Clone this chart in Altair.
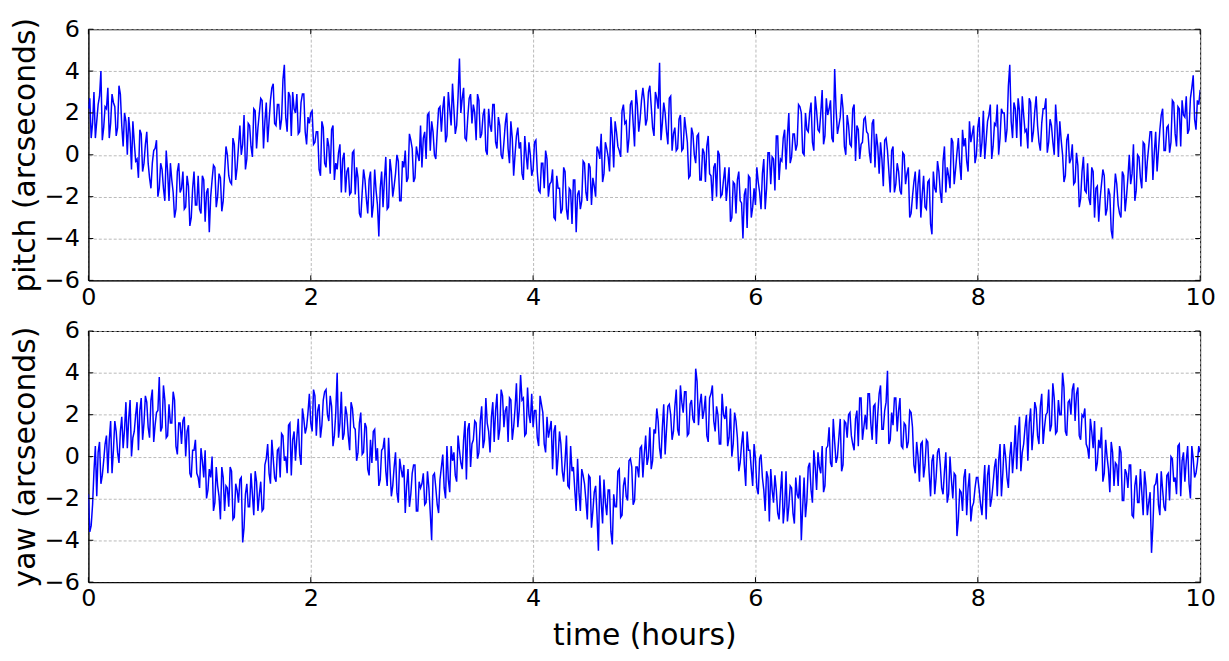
import altair as alt
import pandas as pd

# hours between consecutive samples (main samples + mid-samples interleaved)
T_STEP = 0.0125

# pitch: samples at 0, 0.025, 0.05 ... 10 h
PITCH_MAIN = [
    2.2, 0.8, 3.0, 1.6, 2.8, 0.7, 2.3, 3.2, 1.5, 2.5, 0.9, 3.3, 1.4, 2.0, 0.0, 1.0, 1.6, -0.3, -1.1, 1.0,
    -0.4, 1.1, -1.1, -0.4, 0.3, -2.0, -0.4, -1.6, 0.2, -2.2, -1.2, -3.0, -0.8, -1.8, -0.8, -2.5, -1.5, -3.0, -0.8, -2.4,
    -2.6, -1.0, -3.2, -1.6, -2.0, -0.5, -2.5, -0.9, -2.7, -0.9, 0.0, -1.3, 0.8, -1.2, 0.4, 0.0, 1.9, -0.2, 1.4, -0.1,
    2.1, 1.3, 2.7, 0.3, 2.5, 1.6, 3.2, 1.5, 2.4, 1.2, 3.6, 1.8, 3.0, 0.9, 2.2, 2.9, 1.1, 2.9, 1.1, 1.8,
    2.0, 0.5, 1.1, -0.7, 1.6, -0.4, 0.8, -0.9, 1.4, -0.4, 0.1, -1.8, 0.1, -0.8, -1.9, 0.1, -1.9, -1.1, -3.0, -0.7,
    -2.1, -1.2, -3.0, -0.7, -2.4, -1.6, -2.5, -0.1, -2.5, -0.8, -1.5, 0.0, -2.2, -0.3, 0.2, -1.1, 0.7, -1.3, 0.4, -0.3,
    -0.6, 1.1, 1.9, 0.2, 1.1, -0.2, 2.2, 1.1, 2.8, 0.9, 2.2, 3.4, 1.0, 2.8, 2.0, 3.2, 0.7, 2.7, 1.5, 2.0,
    2.9, 0.8, 1.9, 0.2, 2.2, 1.1, 2.4, 0.3, 1.4, -0.2, 1.5, 0.3, 1.6, -1.0, 0.9, 0.3, -0.9, 0.9, -0.7, 0.0,
    -0.7, 0.7, -1.7, -0.4, -1.6, -0.2, -1.4, -0.7, -3.1, -1.6, -2.8, -0.6, -2.6, -1.6, -3.3, -1.2, -1.9, -2.6, -0.3, -1.8,
    -0.4, -2.4, -1.5, 0.4, -0.2, -1.3, 0.6, -0.1, 1.8, -0.6, 1.1, 0.2, 2.1, 1.5, 0.1, 2.4, 1.5, 3.1, 1.1, 2.6,
    2.6, 1.7, 3.3, 1.3, 3.0, 2.2, 0.7, 2.5, 1.1, 2.7, 0.2, 1.3, 0.3, 1.9, 0.3, 1.2, -1.1, 1.3, 0.0, 0.9,
    -1.2, 0.3, -1.3, 0.9, -1.0, -0.6, -2.0, 0.0, -1.9, -0.6, -1.4, -3.2, -1.3, -2.8, -0.8, -2.3, -1.9, -3.5, -1.1, -2.5,
    -2.4, -1.3, -2.6, -0.2, -1.6, 0.1, -0.1, -1.7, 0.9, -0.2, 0.8, -0.7, 2.0, -0.1, 1.0, 0.5, 2.3, 0.1, 2.0, 1.1,
    2.5, 0.2, 2.1, 1.1, 3.1, 0.9, 1.9, 2.6, 0.6, 2.2, 1.4, 2.9, 0.4, 1.9, 0.5, 2.2, -0.3, 1.2, 0.5, 1.7,
    1.1, 0.1, 1.5, -0.6, 0.4, 0.6, -1.5, 0.8, -0.8, 0.2, -1.8, -0.4, -1.7, 0.1, -1.4, -0.6, -2.8, -1.3, -2.6, -0.7,
    -1.9, -2.5, -1.3, -3.3, -0.8, -1.8, -0.8, -2.3, 0.4, -0.6, -1.6, 0.6, -0.7, 0.8, -1.2, 0.4, -0.3, 1.6, 1.0, -0.4,
    1.3, -0.1, 2.1, 0.7, 1.9, -0.2, 1.5, 2.4, 0.8, 2.0, 0.6, 3.3, 1.6, 2.5, 0.8, 2.1, 2.8, 1.1, 0.3, 2.5,
    1.1, 2.8, 0.6, 1.5, 2.2, 0.1, 1.7, 0.6, 2.4, -0.1, 0.7, -1.3, 0.7, -0.4, 0.5, -1.3, -0.5, -2.1, -0.1, -1.8,
    -2.1, -0.6, -3.0, -1.5, -2.1, -0.7, -2.9, -1.6, -3.6, -2.1, -1.4, -2.8, -0.8, -2.7, -1.1, -1.4, 0.5, -1.7, -0.1, -1.6,
    0.5, -0.3, 1.1, -1.2, 1.1, 0.2, 1.9, 0.2, 1.3, 0.1, 2.6, 1.0, 2.3, 0.4, 1.9, 2.8, 1.2, 3.2, 1.7, 2.6, 3.1,
]

# pitch: samples at 0.0125, 0.0375 ... 9.9875 h
PITCH_MID = [
    2.7, 1.5, 0.8, 2.4, 4.0, 1.3, 2.2, 0.8, 2.9, 2.3, 1.3, 2.9, 0.4, 1.6, 1.8, -0.7, 0.6, -0.2, 1.2, -0.8,
    0.5, -0.4, -1.6, 0.2, 0.7, -1.6, -0.7, -2.2, -0.8, -0.4, -1.8, -2.6, -0.4, -1.6, -2.6, -1.0, -3.4, -1.6, -2.4, -1.0,
    -2.8, -1.2, -1.8, -3.7, -1.2, -0.6, -2.0, -1.1, -2.2, 0.4, -1.0, -1.4, 0.5, -0.6, 1.4, 0.5, -0.7, 1.5, 0.4, 2.2,
    0.3, 2.0, 2.6, 1.6, 0.6, 2.6, 3.4, 1.4, 2.4, 1.7, 4.3, 1.1, 2.8, 3.0, 2.0, 1.0, 2.5, 2.9, 0.5, 1.5,
    2.1, 0.6, 1.1, -1.0, 1.3, -0.6, 0.4, 1.2, -1.2, -0.7, 0.5, -0.2, -1.8, -0.6, -1.8, 0.2, -0.6, -2.8, -1.8, -1.2,
    -2.8, -0.8, -2.4, -1.7, -3.9, -0.8, -1.2, -2.6, -0.2, -2.0, -0.9, -0.3, -2.2, -0.6, -1.3, 1.0, 0.3, -1.1, 0.0, 1.4,
    0.8, -0.2, 2.0, 1.6, 0.0, 1.1, 2.3, 2.2, 0.6, 3.0, 1.4, 2.2, 1.4, 4.6, 2.7, 0.8, 1.8, 2.9, 2.4, 0.7,
    2.6, 1.0, 2.2, 0.0, 1.4, 2.4, 0.6, 1.8, 0.0, 0.6, 2.0, -0.4, 0.8, 0.0, 1.3, 0.6, -1.2, 0.0, 0.6, -1.0,
    0.6, -0.8, -1.8, -0.4, 0.2, -2.0, -1.3, -3.0, -1.0, -1.6, -2.6, -0.8, -3.1, -1.7, -1.2, -3.7, -1.7, -2.2, -0.4, -2.2,
    -0.6, -1.1, -2.0, 0.2, 1.0, -0.9, 0.3, -0.8, 0.9, 1.6, 0.4, -0.1, 2.4, 1.6, 0.8, 2.6, 0.4, 2.4, 1.7, 3.2,
    1.4, 3.0, 2.3, 0.9, 2.7, 4.4, 1.5, 2.0, 0.5, 2.8, 1.0, 0.2, 1.7, 0.2, 1.8, 0.6, -1.0, 1.0, -0.4, 1.0,
    -1.2, 0.1, 0.4, -0.9, -2.2, -0.4, 0.2, -2.0, -1.2, -2.2, -0.6, -3.0, -1.4, -1.2, -2.2, -4.0, -1.6, -1.0, -3.0, -1.6,
    -0.6, -1.8, -0.9, -2.6, 0.1, -1.4, -0.2, 0.9, -1.2, -0.3, 1.2, 0.9, -0.4, 1.0, 0.2, 2.4, 2.0, 0.0, 1.2, 2.0,
    0.6, 2.8, 1.2, 2.0, 0.5, 2.7, 2.2, 0.8, 4.1, 1.0, 1.8, 2.2, 0.0, 1.4, 0.4, 2.4, 1.4, -0.2, 0.6, 1.8,
    1.0, -0.4, 1.7, 1.0, -0.9, -0.2, 0.7, 0.2, -1.8, 0.4, -1.4, -0.8, -1.9, 0.0, -0.9, -3.0, -2.0, -0.8, -1.4, -3.0,
    -1.0, -2.6, -1.2, -3.8, -1.6, -0.3, -1.8, -0.3, -1.8, -1.0, 0.8, -1.4, 0.1, -0.4, 1.2, 0.8, -0.8, 0.6, 1.4, 0.0,
    1.8, 0.6, -0.2, 1.6, 2.4, 0.4, 1.4, 0.0, 2.2, 2.0, 1.2, 4.3, 0.8, 2.2, 2.7, 0.4, 1.9, 1.2, 2.7, 0.6,
    2.1, 1.4, 0.2, 2.2, 2.7, 0.6, 1.4, 0.0, 1.4, 1.6, 0.0, -1.0, 1.0, -0.2, -1.4, 0.1, -2.5, -0.8, -1.7, -0.4,
    -2.4, -0.8, -1.6, -3.2, -1.4, -1.0, -2.6, -1.9, -4.0, -0.9, -2.4, -3.0, -1.0, -2.0, 0.0, -0.9, -2.2, 0.0, -1.1, 0.6,
    -1.3, 0.4, 1.1, 0.1, -0.8, 1.2, 2.2, 0.2, 1.4, 0.6, 2.5, 0.4, 2.2, 2.6, 1.8, 1.0, 2.7, 3.8, 1.2, 2.4,
]

# yaw: samples at 0, 0.025, 0.05 ... 10 h
YAW_MAIN = [
    -1.8, -3.3, -0.7, -1.9, 0.7, -0.9, 0.6, -0.8, 1.7, 0.3, 1.2, -0.3, 1.9, 1.3, 0.4, 2.7, 0.9, 2.0, 0.3, 2.8,
    1.6, 2.6, 0.9, 3.2, 1.5, 2.2, 1.2, 3.4, 0.9, 2.5, 1.6, 2.7, 0.1, 1.6, 1.7, 0.0, 1.5, -1.0, 0.3, -0.8,
    -1.5, -0.2, 0.3, -1.6, -1.0, -2.6, -0.5, -1.9, -0.5, -2.6, -1.5, -0.5, -3.0, -1.3, -2.2, -1.0, -3.4, -1.3, -2.4, -1.8,
    -0.7, -2.6, -1.2, -2.5, -0.1, -0.8, 0.8, -1.0, 0.3, -1.0, 1.0, 0.0, 1.5, -0.9, 1.2, 0.9, 0.1, 2.3, 1.1, 2.1,
    1.6, 3.2, 1.0, 2.5, 1.5, 3.1, 2.0, 2.9, 0.5, 2.1, 0.9, 3.1, 1.1, 2.0, 0.3, 2.3, 1.3, 0.2, 2.1, 0.2,
    1.4, -0.9, -0.3, 1.3, 0.4, -1.1, 0.4, -0.7, 0.9, -1.9, -0.5, -1.7, -0.1, -1.0, -2.7, -0.6, -1.8, -0.4, -2.6, -1.2,
    -1.3, -2.3, -0.7, -2.7, -0.9, -1.5, -2.7, -0.5, -1.5, 0.5, -1.7, -0.2, -0.9, 1.0, -0.3, 0.8, -1.1, 1.6, 0.6, 1.7,
    -0.1, 1.7, 0.4, 2.8, 1.2, 1.9, 0.7, 3.0, 1.3, 2.9, 2.2, 0.7, 2.7, 1.4, 3.5, 2.2, 2.7, 1.0, 3.3, 1.6,
    1.4, 2.2, 0.5, 2.5, 0.6, 1.9, 1.3, -0.6, 1.5, 0.0, 0.6, -1.2, 1.0, -1.5, -0.7, -1.6, -0.1, -2.6, -0.9, -2.1,
    -0.9, -3.4, -1.7, -2.8, -0.9, -3.2, -2.2, -1.6, -3.6, -1.8, -2.4, -0.6, -2.8, -1.0, -2.1, -0.1, -2.3, -0.5, -1.0, 0.5,
    0.1, -0.4, 1.4, -0.2, 1.1, 1.7, -0.1, 2.5, 1.3, 2.5, 0.8, 2.4, 1.3, 3.4, 2.1, 3.1, 1.1, 2.7, 1.6, 3.6,
    2.5, 1.8, 2.9, 0.7, 3.0, 1.7, 2.4, 0.6, 3.0, 1.8, 0.5, 2.3, 0.6, 1.7, -0.7, 0.6, -0.4, 1.2, 0.3, -1.4,
    -0.1, -1.8, 0.1, -1.6, -0.7, -3.1, -1.6, -0.9, -2.7, -1.7, -3.2, -0.7, -2.4, -1.5, -3.2, -1.8, -0.9, -2.4, -2.9, -0.5,
    -1.6, 0.3, -1.6, -0.5, 0.5, -1.4, 0.5, -0.3, 1.8, -0.3, 0.9, -0.7, 1.7, 0.9, 2.1, 0.6, 1.8, 0.5, 2.8, 1.4,
    1.3, 3.0, 0.8, 2.5, 2.0, 3.4, 1.3, 2.6, 0.6, 2.1, 2.8, 1.2, 2.8, 0.4, 1.5, 0.7, 2.1, -0.4, 0.7, -1.2,
    0.7, -0.4, 0.7, -1.9, 0.1, -1.0, 0.4, -1.5, -0.7, -2.2, 0.0, -2.0, -0.9, -3.0, -1.7, -1.0, -2.8, -0.8, -2.4, -1.5,
    -1.0, -2.3, -1.5, -3.0, -0.4, -2.0, -0.5, -1.9, 0.6, -0.8, 0.0, -1.5, 0.7, 0.2, -0.6, 1.9, 0.2, 1.4, -0.2, 2.3,
    1.2, 2.3, 0.6, 3.0, 1.4, 2.1, 1.2, 3.5, 1.1, 2.7, 2.0, 3.3, 1.0, 2.7, 3.2, 1.7, 3.3, 0.8, 1.9, 0.6,
    -0.1, 1.2, 1.7, -0.3, 0.4, -1.2, 0.8, -0.6, 0.7, -1.4, -0.4, 0.5, -2.1, -0.6, -1.5, -0.4, -2.9, -0.9, -2.2, -1.7,
    -0.7, -2.8, -1.7, -3.3, -1.3, -2.3, -0.7, -2.4, -0.9, -2.1, -0.1, -1.0, 0.5, -1.9, 0.2, -0.2, -1.3, 0.5, -1.0, -0.3, 0.2,
]

# yaw: samples at 0.0125, 0.0375 ... 9.9875 h
YAW_MID = [
    -3.6, -2.3, 0.5, 0.2, -1.3, -0.2, 1.0, 0.8, -0.8, 1.7, 0.2, 1.2, 0.4, 2.6, 1.8, 0.0, 1.2, 2.6, 2.2, 0.8,
    2.9, 1.4, 2.7, 0.7, 2.1, 3.8, 1.4, 2.7, 1.0, 1.6, 3.1, 0.5, 1.6, 0.6, 1.9, 1.2, -0.8, 0.3, 0.8, -1.0,
    0.4, -1.0, -2.0, -0.6, 0.0, -2.2, -1.4, -3.0, -1.0, -1.4, -2.4, -0.7, -2.9, -1.6, -1.1, -4.1, -1.8, -2.4, -0.8, -2.8,
    -1.2, -1.8, -2.6, -0.4, 0.6, -1.3, -0.1, -1.2, 0.4, 1.1, -0.2, -0.8, 1.6, 0.8, -0.2, 1.8, -0.4, 1.8, 1.4, 3.0,
    1.2, 2.9, 2.2, 0.9, 2.7, 3.2, 1.7, 2.4, 1.0, 4.0, 1.6, 0.8, 2.4, 1.0, 2.6, 1.4, -0.2, 1.6, 0.1, 1.6,
    -0.6, 0.8, 1.2, -0.2, -1.4, 0.3, 0.9, -1.4, -0.5, -1.4, 0.2, -2.2, -0.6, -0.4, -1.4, -2.4, -0.8, -0.4, -2.6, -1.5,
    -0.8, -2.2, -1.5, -4.0, -0.8, -2.3, -1.1, 0.1, -2.0, -1.1, 0.5, 0.2, -1.2, 0.3, -0.6, 1.7, 1.3, -0.5, 0.8, 1.6,
    0.2, 2.4, 0.8, 1.6, 0.2, 2.6, 2.2, 0.8, 3.2, 1.4, 2.4, 2.8, 0.8, 2.3, 1.4, 3.9, 2.8, 1.1, 2.0, 3.0,
    2.2, 0.9, 2.9, 2.1, 0.2, 0.9, 1.7, 1.2, -0.9, 1.2, -0.7, -0.2, -1.4, 0.5, -0.5, -2.6, -1.7, -0.6, -1.3, -3.0,
    -1.0, -2.6, -1.4, -4.5, -2.2, -1.1, -2.8, -1.6, -4.2, -2.4, -0.7, -2.9, -1.4, -1.9, -0.2, -0.5, -2.1, -0.5, 0.4, -1.0,
    1.0, 0.0, -0.6, 1.3, 2.3, 0.4, 1.4, 0.1, 2.4, 2.0, 1.2, 3.2, 1.0, 2.6, 3.1, 1.0, 2.5, 1.8, 4.2, 1.5,
    3.0, 2.2, 1.0, 2.8, 3.4, 1.2, 2.0, 0.6, 2.0, 2.4, 0.9, 0.0, 2.1, 0.9, -0.3, 1.2, -1.4, 0.3, -0.6, 0.6,
    -1.5, -0.1, -1.0, -2.6, -1.0, -0.6, -2.2, -1.6, -3.0, -0.7, -2.4, -3.1, -1.4, -2.7, -1.0, -2.0, -4.0, -1.0, -2.1, -0.3,
    -2.2, -0.5, 0.2, -0.8, -1.7, 0.4, 1.4, -0.5, 0.7, 0.0, 1.8, -0.4, 1.6, 2.0, 1.0, 0.3, 2.2, 2.8, 0.8, 2.0,
    3.0, 1.6, 2.4, 0.6, 3.0, 1.3, 2.2, 4.1, 0.8, 1.5, 2.8, 2.2, 0.5, 1.6, 0.4, 2.2, 1.4, -0.8, 0.0, 0.6,
    -1.0, 0.8, -0.8, -0.2, -1.8, 0.2, -0.4, -1.8, 0.2, -1.8, -1.1, -0.8, -3.8, -1.6, -2.6, -0.6, -1.5, -3.1, -2.2, -1.0,
    -1.6, -2.8, -0.4, -0.9, -2.4, -1.3, -0.1, -0.2, -1.9, 0.6, -1.0, 0.0, -0.8, 1.5, 1.0, -0.7, 0.6, 2.0, 1.6, 0.3,
    2.6, 1.0, 2.4, 0.6, 2.0, 3.2, 1.5, 2.8, 1.2, 2.0, 4.0, 1.2, 2.6, 2.0, 3.5, 3.0, 1.0, 2.0, 2.3, 0.4,
    1.8, 0.4, -0.7, 0.8, 1.4, -0.8, 0.0, -1.7, 0.2, -0.3, -1.4, 0.2, -2.1, -0.8, -0.4, -2.8, -1.4, -2.2, -0.6, -2.8,
    -1.4, -2.2, -4.6, -1.4, -0.8, -2.8, -1.6, -2.6, -0.8, 0.0, -1.2, -1.8, 0.6, -0.2, -1.2, 0.5, -2.0, -0.1, -0.8, 0.5,
]

X_TICKS = [0, 2, 4, 6, 8, 10]
Y_TICKS = [-6, -4, -2, 0, 2, 4, 6]
X_DOMAIN = [0, 10]
Y_DOMAIN = [-6, 6]

W, H = 1120, 253
FONT = "DejaVu Sans"


def interleave(main, mid):
    out = []
    for i, m in enumerate(main):
        out.append(m)
        if i < len(mid):
            out.append(mid[i])
    return out


def panel(main, mid, ytitle, xtitle=""):
    vals = interleave(main, mid)
    xs = alt.Scale(domain=X_DOMAIN, nice=False, zero=False)
    ys = alt.Scale(domain=Y_DOMAIN, nice=False, zero=False)
    xenc = alt.X("time:Q", scale=xs, axis=alt.Axis(values=X_TICKS, title=xtitle))
    yenc = alt.Y("value:Q", scale=ys, axis=alt.Axis(values=Y_TICKS, title=ytitle))

    df = pd.DataFrame({
        "time": [round(i * T_STEP, 4) for i in range(len(vals))],
        "value": vals,
    })
    line = alt.Chart(df).mark_line(
        color="#0000ff", strokeWidth=1.5, clip=True
    ).encode(x=xenc, y=yenc)

    ydf = pd.DataFrame({"value": Y_TICKS})
    xdf = pd.DataFrame({"time": X_TICKS})
    tick_style = dict(color="black", strokeWidth=1)
    lt = alt.Chart(ydf).mark_rule(**tick_style).encode(
        y=yenc, x=alt.value(0), x2=alt.value(5))
    rt = alt.Chart(ydf).mark_rule(**tick_style).encode(
        y=yenc, x=alt.value(W - 5), x2=alt.value(W))
    bt = alt.Chart(xdf).mark_rule(**tick_style).encode(
        x=xenc, y=alt.value(H - 5), y2=alt.value(H))
    tt = alt.Chart(xdf).mark_rule(**tick_style).encode(
        x=xenc, y=alt.value(0), y2=alt.value(5))
    return alt.layer(line, lt, rt, bt, tt).properties(width=W, height=H)


top = panel(PITCH_MAIN, PITCH_MID, "pitch (arcseconds)")
bottom = panel(YAW_MAIN, YAW_MID, "yaw (arcseconds)", "time (hours)")

chart = alt.vconcat(top, bottom, spacing=51, bounds="flush").configure(
    padding={"left": 2, "top": 6, "right": 5, "bottom": 0},
    background="white",
).configure_view(
    stroke="black", strokeWidth=1
).configure_axis(
    labelFont=FONT, labelFontSize=24, labelColor="black",
    titleFont=FONT, titleFontSize=30, titleFontWeight="normal", titleColor="black",
    ticks=False, domainColor="black", domainWidth=1,
    grid=True, gridColor="#a8a8a8", gridDash=[3, 2], gridWidth=0.8,
    labelFlush=False, labelOverlap=False, labelBound=False,
).configure_axisX(
    labelPadding=5, titlePadding=10,
).configure_axisY(
    labelPadding=9, titlePadding=4,
)

chart.save("out.html", embed_options={"renderer": "svg", "actions": False})
